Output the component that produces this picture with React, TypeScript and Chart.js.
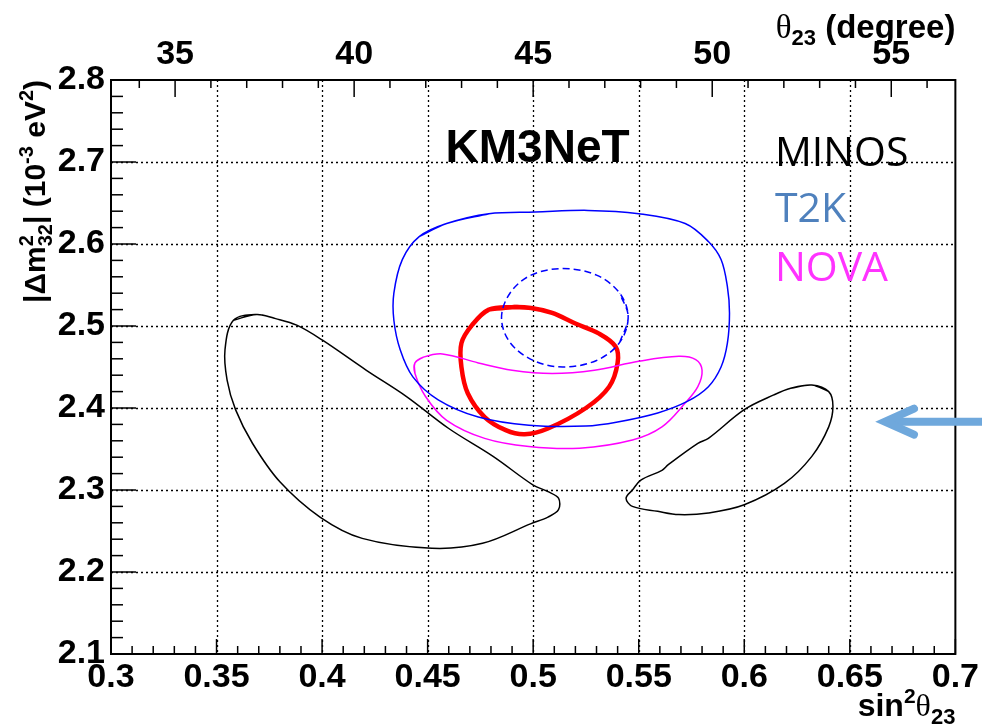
import React, { useEffect, useRef } from "react";
import { Chart, registerables } from "chart.js";

Chart.register(...registerables);

// ---- axes ----
const X_MIN = 0.3;
const X_MAX = 0.7;
const Y_MIN = 2.1;
const Y_MAX = 2.8;
const DEG_MIN = 33.21; // asin(sqrt(0.3))
const DEG_MAX = 56.79; // asin(sqrt(0.7))
const xMajorTicks = [0.3, 0.35, 0.4, 0.45, 0.5, 0.55, 0.6, 0.65, 0.7];
const yMajorTicks = [2.1, 2.2, 2.3, 2.4, 2.5, 2.6, 2.7, 2.8];
const degMajorTicks = [35, 40, 45, 50, 55];

// ---- contours (sin^2 theta23, |dm^2_32| in 1e-3 eV^2) ----
const minosLeftX = [0.369, 0.358, 0.354, 0.355, 0.359, 0.367, 0.38, 0.399, 0.419, 0.452, 0.476, 0.499, 0.507, 0.512, 0.512, 0.507, 0.5, 0.481, 0.46, 0.44, 0.421, 0.4, 0.388, 0.378, 0.369];
const minosLeftY = [2.514, 2.507, 2.471, 2.434, 2.398, 2.357, 2.31, 2.267, 2.241, 2.229, 2.235, 2.259, 2.267, 2.276, 2.29, 2.298, 2.306, 2.341, 2.375, 2.414, 2.446, 2.483, 2.501, 2.509, 2.514];

const minosRightX = [0.632, 0.64, 0.642, 0.64, 0.632, 0.619, 0.6, 0.583, 0.569, 0.559, 0.547, 0.544, 0.547, 0.551, 0.561, 0.564, 0.578, 0.583, 0.6, 0.614, 0.622, 0.632];
const minosRightY = [2.428, 2.42, 2.402, 2.377, 2.341, 2.308, 2.282, 2.272, 2.27, 2.274, 2.28, 2.29, 2.3, 2.312, 2.324, 2.331, 2.357, 2.363, 2.398, 2.416, 2.424, 2.428];

const t2k90X = [0.459, 0.479, 0.501, 0.526, 0.55, 0.572, 0.583, 0.589, 0.592, 0.593, 0.592, 0.589, 0.583, 0.573, 0.559, 0.54, 0.525, 0.498, 0.474, 0.455, 0.443, 0.437, 0.434, 0.434, 0.438, 0.446, 0.459];
const t2k90Y = [2.625, 2.637, 2.639, 2.641, 2.637, 2.625, 2.603, 2.581, 2.548, 2.516, 2.479, 2.45, 2.426, 2.408, 2.394, 2.383, 2.378, 2.379, 2.389, 2.41, 2.438, 2.471, 2.507, 2.54, 2.581, 2.609, 2.625];

const t2k68X = [0.545, 0.541, 0.53, 0.514, 0.499, 0.489, 0.485, 0.489, 0.5, 0.514, 0.53, 0.541, 0.545];
const t2k68Y = [2.511, 2.54, 2.562, 2.57, 2.562, 2.54, 2.51, 2.48, 2.458, 2.45, 2.458, 2.48, 2.511];

const km3netX = [0.49, 0.479, 0.471, 0.466, 0.466, 0.469, 0.477, 0.487, 0.496, 0.507, 0.525, 0.536, 0.54, 0.539, 0.531, 0.52, 0.509, 0.499, 0.49];
const km3netY = [2.523, 2.52, 2.501, 2.479, 2.45, 2.418, 2.389, 2.373, 2.368, 2.375, 2.4, 2.426, 2.455, 2.475, 2.491, 2.503, 2.516, 2.522, 2.523];

const novaX = [0.444, 0.448, 0.457, 0.474, 0.49, 0.509, 0.529, 0.55, 0.569, 0.577, 0.58, 0.578, 0.572, 0.561, 0.547, 0.522, 0.498, 0.477, 0.459, 0.449, 0.444, 0.444];
const novaY = [2.455, 2.462, 2.466, 2.455, 2.446, 2.442, 2.446, 2.457, 2.463, 2.459, 2.446, 2.426, 2.406, 2.377, 2.361, 2.351, 2.353, 2.363, 2.385, 2.414, 2.442, 2.455];

// ---- annotations (data coords) ----
const legendLabels = ["MINOS", "T2K", "NOVA"];
const legendColors = ["#000000", "#4f81bd", "#ff33ff"];
const legendX = 0.6145;
const legendY = [2.6955, 2.6272, 2.5552];
const expLabel = "KM3NeT";
const expLabelX = 0.4585;
const expLabelY = 2.6996;
const arrowX = 0.6624;
const arrowY = 2.3833;

const SANS = "'Liberation Sans', Arial, Helvetica, sans-serif";
const SERIF = "'Liberation Serif', 'Times New Roman', serif";

// closed contour: wrap neighbours so the spline closes smoothly
const loop = (xs: number[], ys: number[]) => {
  const p = xs.map((x, i) => ({ x, y: ys[i] }));
  const n = p.length; // last == first
  return [p[n - 2], ...p, p[1]];
};

type Seg = { t: string; font: string; dy?: number; stackSub?: string };

function segWidth(ctx: CanvasRenderingContext2D, s: Seg) {
  ctx.font = s.font;
  const w = ctx.measureText(s.t).width;
  if (s.stackSub !== undefined) return Math.max(w, ctx.measureText(s.stackSub).width);
  return w;
}

function drawRich(ctx: CanvasRenderingContext2D, segs: Seg[], x: number, y: number, align: "left" | "right") {
  let total = 0;
  segs.forEach((s) => (total += segWidth(ctx, s)));
  let cx = align === "right" ? x - total : x;
  ctx.textAlign = "left";
  ctx.textBaseline = "alphabetic";
  segs.forEach((s) => {
    ctx.font = s.font;
    if (s.stackSub !== undefined) {
      ctx.fillText(s.t, cx, y - 12);
      ctx.fillText(s.stackSub, cx, y + 7);
    } else {
      ctx.fillText(s.t, cx, y + (s.dy || 0));
    }
    cx += segWidth(ctx, s);
  });
}

const decorPlugin = {
  id: "decor",
  beforeDatasetsDraw(chart: any) {
    const { ctx, chartArea: a, scales } = chart;
    const sx = scales.x;
    const sy = scales.y;
    ctx.save();
    ctx.strokeStyle = "#000";
    ctx.lineWidth = 1.3;
    ctx.setLineDash([2, 3]);
    xMajorTicks.forEach((v) => {
      if (v <= X_MIN || v >= X_MAX) return;
      const px = Math.round(sx.getPixelForValue(v)) + 0.5;
      ctx.beginPath();
      ctx.moveTo(px, a.top);
      ctx.lineTo(px, a.bottom);
      ctx.stroke();
    });
    yMajorTicks.forEach((v) => {
      if (v <= Y_MIN || v >= Y_MAX) return;
      const py = Math.round(sy.getPixelForValue(v)) + 0.5;
      ctx.beginPath();
      ctx.moveTo(a.left, py);
      ctx.lineTo(a.right, py);
      ctx.stroke();
    });
    ctx.restore();
  },
  afterDraw(chart: any) {
    const { ctx, chartArea: a, scales } = chart;
    const sx = scales.x;
    const sy = scales.y;
    const st = scales.x2;
    ctx.save();
    ctx.setLineDash([]);
    ctx.strokeStyle = "#000";
    ctx.lineWidth = 1.5;
    const seg = (x1: number, y1: number, x2: number, y2: number) => {
      ctx.beginPath();
      ctx.moveTo(x1, y1);
      ctx.lineTo(x2, y2);
      ctx.stroke();
    };
    // bottom ticks (inside)
    for (let i = 30; i <= 70; i++) {
      const px = sx.getPixelForValue(i / 100);
      seg(px, a.bottom, px, a.bottom - (i % 5 === 0 ? 15 : 8));
    }
    // left ticks
    for (let i = 105; i <= 140; i++) {
      const py = sy.getPixelForValue(i / 50);
      seg(a.left, py, a.left + (i % 5 === 0 ? 25 : 12), py);
    }
    // top ticks (degrees)
    for (let d = 34; d <= 56; d++) {
      const px = st.getPixelForValue(d);
      seg(px, a.top, px, a.top + (d % 5 === 0 ? 17 : 8));
    }
    // frame
    ctx.lineWidth = 2;
    ctx.strokeRect(a.left, a.top, a.right - a.left, a.bottom - a.top);

    // axis titles
    ctx.fillStyle = "#000";
    drawRich(
      ctx,
      [
        { t: "sin", font: `bold 32px ${SANS}` },
        { t: "2", font: `bold 21px ${SANS}`, dy: -13 },
        { t: "θ", font: `32px ${SERIF}` },
        { t: "23", font: `bold 22px ${SANS}`, dy: 8 },
      ],
      a.right,
      716,
      "right"
    );
    drawRich(
      ctx,
      [
        { t: "θ", font: `33px ${SERIF}` },
        { t: "23", font: `bold 22px ${SANS}`, dy: 7 },
        { t: " (degree)", font: `bold 33px ${SANS}` },
      ],
      a.right,
      38,
      "right"
    );
    ctx.save();
    ctx.translate(45, a.top);
    ctx.rotate(-Math.PI / 2);
    drawRich(
      ctx,
      [
        { t: "|Δm", font: `bold 30px ${SANS}` },
        { t: "2", stackSub: "32", font: `bold 20px ${SANS}` },
        { t: "| (10", font: `bold 30px ${SANS}` },
        { t: "-3", font: `bold 20px ${SANS}`, dy: -12 },
        { t: " eV", font: `bold 30px ${SANS}` },
        { t: "2", font: `bold 20px ${SANS}`, dy: -12 },
        { t: ")", font: `bold 30px ${SANS}` },
      ],
      0,
      0,
      "right"
    );
    ctx.restore();

    // experiment label and legend text
    ctx.textAlign = "left";
    ctx.textBaseline = "alphabetic";
    ctx.font = `bold 46px ${SANS}`;
    ctx.fillStyle = "#000";
    ctx.fillText(expLabel, sx.getPixelForValue(expLabelX), sy.getPixelForValue(expLabelY));
    ctx.font = `41px 'Open Sans', 'Noto Sans', sans-serif`;
    legendLabels.forEach((lab, i) => {
      ctx.fillStyle = legendColors[i];
      ctx.fillText(lab, sx.getPixelForValue(legendX), sy.getPixelForValue(legendY[i]));
    });

    // arrow
    const tx = sx.getPixelForValue(arrowX) + 9;
    const ty = sy.getPixelForValue(arrowY);
    ctx.strokeStyle = "#6fa8dc";
    ctx.lineWidth = 8;
    ctx.lineCap = "round";
    ctx.lineJoin = "miter";
    ctx.beginPath();
    ctx.moveTo(tx + 3, ty);
    ctx.lineTo(chart.width + 10, ty);
    ctx.stroke();
    ctx.beginPath();
    ctx.moveTo(tx + 29, ty - 13);
    ctx.lineTo(tx, ty);
    ctx.lineTo(tx + 29, ty + 13);
    ctx.stroke();
    ctx.restore();
  },
};

export default function App() {
  const ref = useRef<HTMLCanvasElement>(null);
  useEffect(() => {
    const canvas = ref.current!;
    const line = (data: any, color: string, width: number, dash: number[] = []) => ({
      data,
      showLine: true,
      borderColor: color,
      backgroundColor: color,
      borderWidth: width,
      borderDash: dash,
      pointRadius: 0,
      pointHoverRadius: 0,
      tension: 0.35,
      fill: false,
    });
    const tickFont = { family: SANS, size: 34, weight: "bold" as const };
    const chart = new Chart(canvas, {
      type: "scatter",
      data: {
        datasets: [
          line(loop(minosLeftX, minosLeftY), "#000000", 1.5),
          line(loop(minosRightX, minosRightY), "#000000", 1.5),
          line(loop(t2k90X, t2k90Y), "#0000ff", 1.5),
          line(loop(t2k68X, t2k68Y), "#0000ff", 1.5, [7, 4]),
          line(loop(novaX, novaY), "#ff00ff", 1.5),
          line(loop(km3netX, km3netY), "#ff0000", 4.5),
        ] as any,
      },
      options: {
        animation: false,
        responsive: true,
        maintainAspectRatio: false,
        layout: { padding: { left: 0, right: 24, top: 0, bottom: 0 } },
        plugins: { legend: { display: false }, tooltip: { enabled: false } },
        events: [],
        scales: {
          x: {
            type: "linear",
            position: "bottom",
            min: X_MIN,
            max: X_MAX,
            grid: { display: false, drawTicks: false },
            border: { display: false },
            ticks: {
              font: tickFont,
              color: "#000",
              padding: 3,
              maxRotation: 0,
              autoSkip: false,
              callback: (v: any) => String(v),
            },
            afterBuildTicks: (s: any) => {
              s.ticks = xMajorTicks.map((value) => ({ value }));
            },
            afterFit: (s: any) => {
              s.height = 72;
            },
          },
          x2: {
            type: "linear",
            position: "top",
            min: DEG_MIN,
            max: DEG_MAX,
            grid: { display: false, drawTicks: false },
            border: { display: false },
            ticks: {
              font: tickFont,
              color: "#000",
              padding: 5,
              maxRotation: 0,
              autoSkip: false,
              callback: (v: any) => String(v),
            },
            afterBuildTicks: (s: any) => {
              s.ticks = degMajorTicks.map((value) => ({ value }));
            },
            afterFit: (s: any) => {
              s.height = 80;
            },
          },
          y: {
            type: "linear",
            position: "left",
            min: Y_MIN,
            max: Y_MAX,
            grid: { display: false, drawTicks: false },
            border: { display: false },
            ticks: {
              font: tickFont,
              color: "#000",
              padding: 6,
              autoSkip: false,
              callback: (v: any) => Number(v).toFixed(1),
            },
            afterBuildTicks: (s: any) => {
              s.ticks = yMajorTicks.map((value) => ({ value }));
            },
            afterFit: (s: any) => {
              s.width = 111;
            },
          },
        },
      },
      plugins: [decorPlugin],
    });
    return () => chart.destroy();
  }, []);
  return (
    <div style={{ position: "fixed", left: 0, top: 0, width: 982, height: 726, background: "#fff" }}>
      <canvas ref={ref} />
    </div>
  );
}
